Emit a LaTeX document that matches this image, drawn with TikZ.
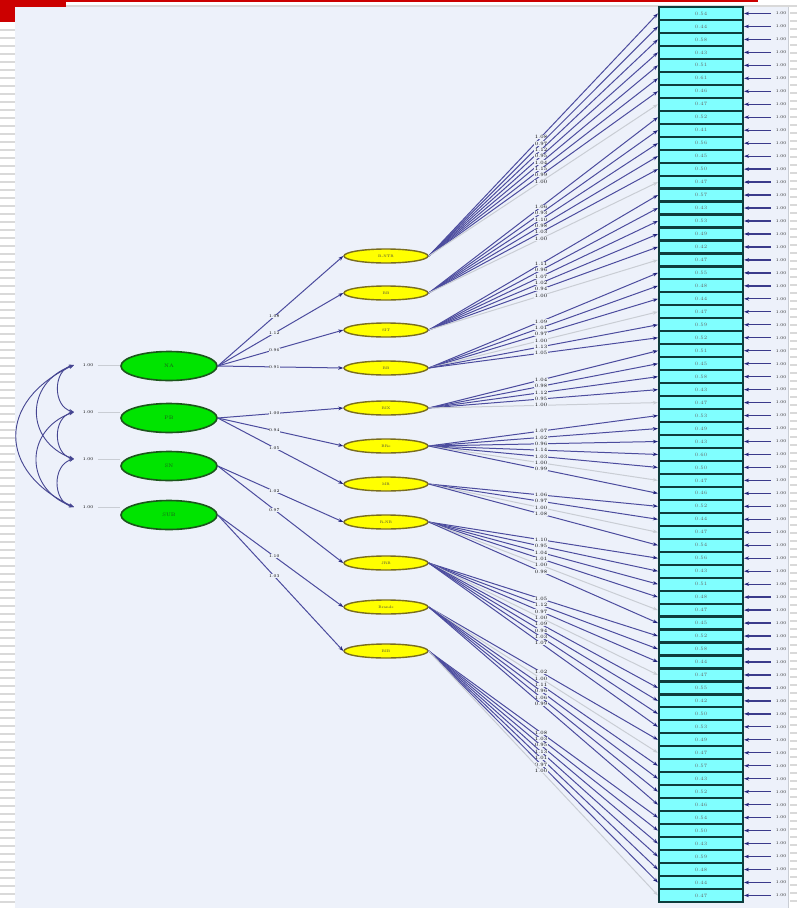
\documentclass[tikz,border=0pt]{standalone}
\usetikzlibrary{arrows.meta,shapes.geometric}
\definecolor{panel}{HTML}{EDF1FA}
\definecolor{stripe}{HTML}{D9D9D9}
\definecolor{tplred}{HTML}{CC0000}
\definecolor{navy}{HTML}{24247E}
\definecolor{navyl}{HTML}{4C4C9E}
\definecolor{lgray}{HTML}{C9CDD4}
\definecolor{lvgreen}{HTML}{00E400}
\definecolor{lvgreenb}{HTML}{1C561C}
\definecolor{ylw}{HTML}{FFFF00}
\definecolor{ylwb}{HTML}{7A6E1E}
\definecolor{cyanf}{HTML}{80FFFF}
\definecolor{cyanb}{HTML}{0E3C3C}
\tikzset{
  factorbig/.style={ellipse, draw=lvgreenb, line width=1.6pt, fill=lvgreen,
    minimum width=96pt, minimum height=29pt, inner sep=0pt,
    font=\fontsize{5}{5}\selectfont, text=lvgreenb},
  factorsmall/.style={ellipse, draw=ylwb, line width=1.4pt, fill=ylw,
    minimum width=84pt, minimum height=14pt, inner sep=0pt,
    font=\fontsize{3.6}{4}\selectfont, text=black!75},
  obsbox/.style={rectangle, draw=cyanb, line width=2.2pt, fill=cyanf,
    minimum width=84pt, minimum height=12.97pt, inner sep=0pt,
    font=\fontsize{3.6}{4}\selectfont, text=black!60},
  est/.style={fill=panel, inner sep=0.5pt, font=\fontsize{4.2}{4.2}\selectfont, text=black},
  errlab/.style={inner sep=0.5pt, font=\fontsize{4.2}{4.2}\selectfont, text=black!85},
  tipn/.style={-{Stealth[length=5pt,width=3.6pt,color=navy]}},
  loadline/.style={tipn, draw=navyl, line width=1pt},
  greyline/.style={-{Stealth[length=5pt,width=3.6pt]}, draw=lgray, line width=1pt},
  errarrow/.style={tipn, draw=navy!90, line width=1.3pt, shorten <=4pt},
  covarc/.style={{Stealth[length=5pt,width=3.6pt]}-{Stealth[length=5pt,width=3.6pt]}, draw=navy!85, line width=0.9pt},
  varline/.style={draw=lgray, line width=0.9pt}
}
\begin{document}
\begin{tikzpicture}[x=1pt,y=-1pt]
\useasboundingbox (0,0) rectangle (797,908);
\fill[white] (0,0) rectangle (797,908);
\foreach \k in {0,...,109} \fill[stripe] (0,{29+8*\k}) rectangle (15,{31+8*\k});
\foreach \k in {0,...,111} \fill[stripe] (790,{12+8*\k}) rectangle (797,{14+8*\k});
\fill[tplred] (0,0) rectangle (66,22);
\fill[tplred] (66,0) rectangle (758,1.5);
\fill[stripe] (66,5) rectangle (797,7);
\fill[panel] (15,7) rectangle (788,908);
\draw[lgray,line width=0.6pt] (788,7) -- (788,908);

\def\loads{{1.08,0.97,1.12,0.95,1.04,1.15,0.99,1.00,
 1.06,0.93,1.10,0.98,1.03,1.00,
 1.11,0.96,1.07,1.02,0.94,1.00,
 1.09,1.01,0.97,1.00,1.13,1.05,
 1.04,0.98,1.12,0.95,1.00,
 1.07,1.02,0.96,1.14,1.03,1.00,0.99,
 1.06,0.97,1.00,1.08,
 1.10,0.95,1.04,1.01,1.00,0.98,
 1.05,1.12,0.97,1.00,1.09,0.94,1.03,1.07,
 1.02,1.00,1.11,0.96,1.06,0.99,
 1.08,1.03,0.95,1.13,1.01,0.97,1.00}}
\def\greys{{0,0,0,0,0,0,0,1, 0,0,0,0,0,1, 0,0,0,0,0,1, 0,0,0,1,0,0,
 0,0,0,0,1, 0,0,0,0,0,1,0, 0,0,1,0, 0,0,0,0,1,0, 0,0,0,1,0,0,0,0,
 0,1,0,0,0,0, 0,0,0,0,0,0,1}}

% observed indicators
\foreach \i in {1,...,69} {
  \pgfmathsetmacro{\by}{7+12.97*(\i-0.5)}
  \pgfmathsetmacro{\rv}{0.38+0.9*(\loads[\i-1]-0.9)}
  \node[obsbox] (b\i) at (701,\by) {\pgfmathprintnumber[fixed,fixed zerofill,precision=2]{\rv}};
  \node[errlab] (e\i) at (781,\by) {1.00};
  \draw[errarrow] (e\i.west) -- (b\i.east);
}

% first-order factors
\foreach \yy/\t [count=\j] in {256/B-NTR, 293/BB, 330/SIT, 368/BB, 408/BIX, 446/BRe, 484/MR, 522/R-NB, 563/JRB, 607/Brands, 651/BIB}
  \node[factorsmall] (y\j) at (386,\yy) {\t};

% loadings to indicators
\foreach \j/\a/\b in {1/1/8,2/9/14,3/15/20,4/21/26,5/27/31,6/32/38,7/39/42,8/43/48,9/49/56,10/57/62,11/63/69} {
  \foreach \i in {\a,...,\b} {
    \pgfmathtruncatemacro{\isg}{\greys[\i-1]}
    \pgfmathsetmacro{\lv}{\loads[\i-1]}
    \ifnum\isg=1 \tikzset{curline/.style={greyline}}\else\tikzset{curline/.style={loadline}}\fi
    \draw[curline] (y\j.east) -- node[est,pos=0.49]{\pgfmathprintnumber[fixed,fixed zerofill,precision=2]{\lv}} (b\i.west);
  }
}

% second-order factors
\foreach \yy/\t [count=\g] in {366/NA, 418/PB, 466/SN, 515/SUB}
  \node[factorbig] (g\g) at (169,\yy) {\t};

\foreach \g/\j/\t in {1/1/1.08,1/2/1.12,1/3/0.96,1/4/0.91,2/5/1.00,2/6/0.94,2/7/1.05,3/8/1.02,3/9/0.97,4/10/1.10,4/11/1.03}
  \draw[loadline] (g\g.east) -- node[est,pos=0.45]{\t} (y\j.west);

% variances and covariances
\foreach \k/\yy in {1/365,2/412,3/459,4/507} {
  \coordinate (c\k) at (74,\yy);
  \node[est] (v\k) at (88,\yy) {1.00};
  \draw[varline, shorten <=4pt] (v\k.east) -- (g\k.west |- v\k.east);
}
\draw[covarc] (c1) to[out=195,in=165,looseness=1.2] (c2);
\draw[covarc] (c2) to[out=195,in=165,looseness=1.2] (c3);
\draw[covarc] (c3) to[out=195,in=165,looseness=1.2] (c4);
\draw[covarc] (c1) to[out=200,in=160,looseness=1.43] (c3);
\draw[covarc] (c2) to[out=200,in=160,looseness=1.43] (c4);
\draw[covarc] (c1) to[out=205,in=155,looseness=1.53] (c4);
\end{tikzpicture}
\end{document}
